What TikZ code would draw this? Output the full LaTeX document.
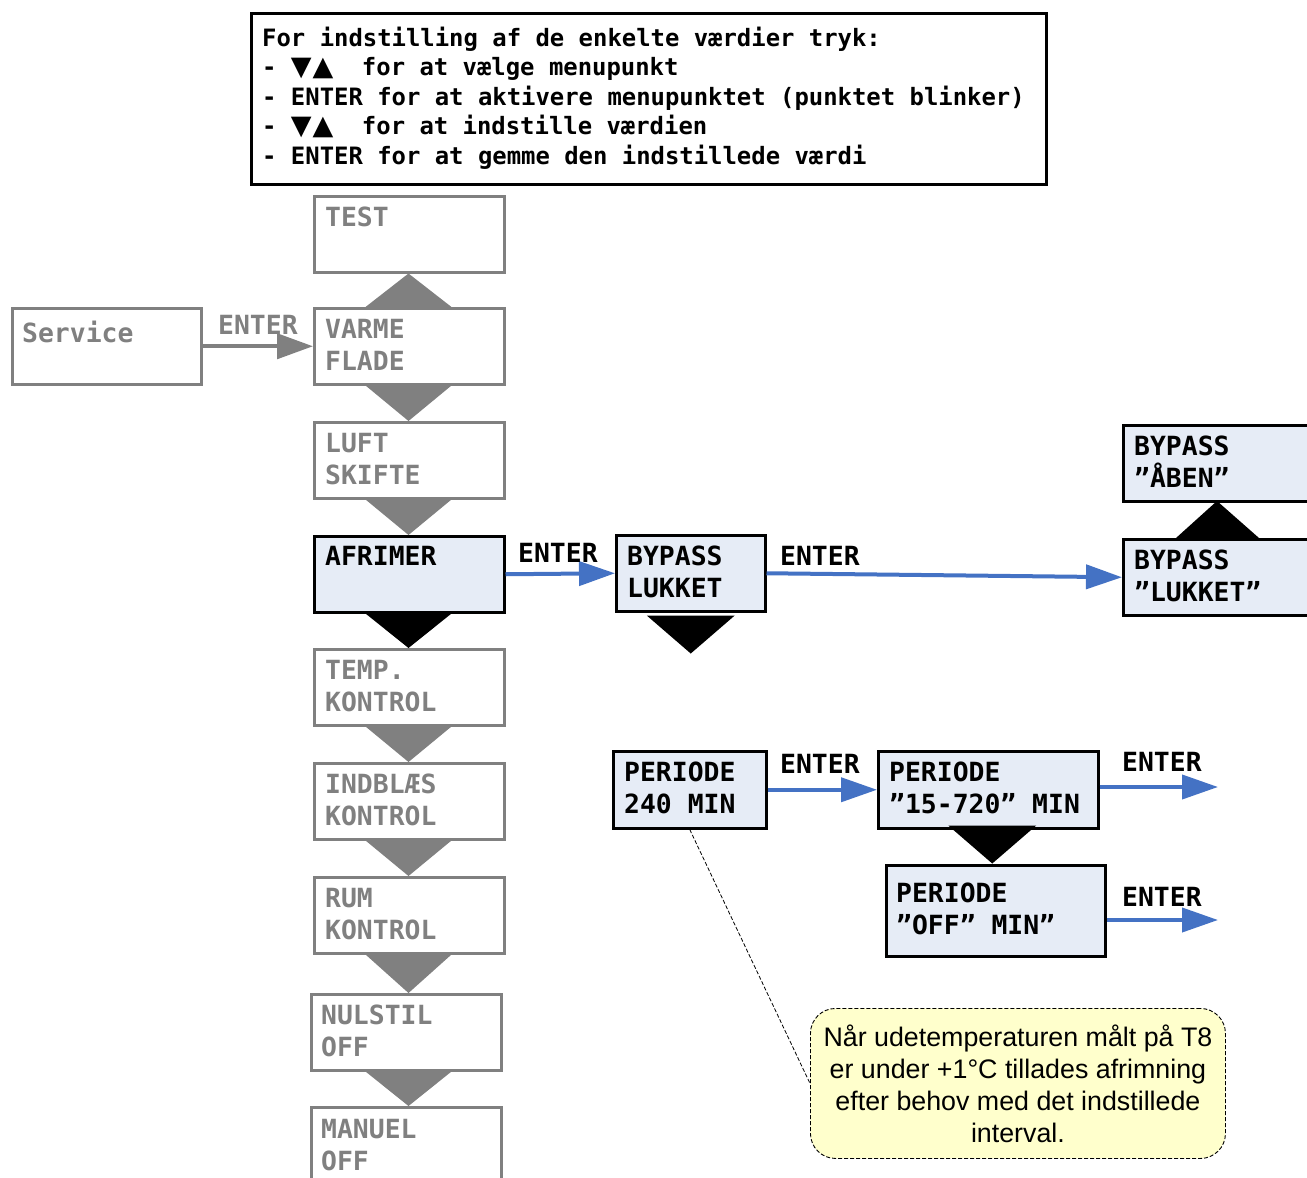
\documentclass[tikz,border=0pt]{standalone}
\usepackage{fontspec}
\usetikzlibrary{arrows.meta,calc}
\setmainfont{Liberation Sans}
\newfontfamily\lcdfont{DejaVu Sans Mono}
\newfontfamily\symfont{DejaVu Sans}
\newcommand\lcd{\lcdfont\bfseries\fontsize{26.4}{32}\selectfont}
\newcommand\helpfont{\lcdfont\bfseries\fontsize{23.9}{29.5}\selectfont}
\newcommand\keysyms{{\symfont\fontsize{27}{29.5}\selectfont ▼\kern1pt▲}}
\newcommand\notefont{\fontsize{26.8}{32}\selectfont}
\definecolor{menugray}{RGB}{128,128,128}
\definecolor{keyblue}{RGB}{68,114,196}
\definecolor{activefill}{RGB}{230,236,246}
\definecolor{notefill}{RGB}{255,255,204}
\tikzset{
  box/.style={draw, line width=2.5pt, minimum width=190, minimum height=76,
    anchor=north west, inner sep=0},
  gbox/.style={box, draw=menugray},
  abox/.style={box, draw=black, fill=activefill},
  % text nodes are placed at the baseline of their last line
  gtxt/.style={anchor=base west, inner sep=0, text=menugray, font=\lcd, align=left},
  atxt/.style={anchor=base west, inner sep=0, text=black, font=\lcd, align=left},
  gtri/.style={fill=menugray},
  btri/.style={fill=black},
  garrow/.style={draw=menugray, line width=4pt, -{Triangle[length=36pt,width=25pt]}},
  barrow/.style={draw=keyblue, line width=4pt, -{Triangle[length=36pt,width=24pt]}},
}
\begin{document}
\begin{tikzpicture}[x=1pt,y=-1pt]
\useasboundingbox (0,0) rectangle (1307,1178);
\clip (0,0) rectangle (1307,1178);

% instruction panel
\node[box, draw=black, minimum width=795, minimum height=171] (help) at (250,12) {};
\node[anchor=base west, inner sep=0, font=\helpfont, align=left] (helptext) at (262,164)
  {For indstilling af de enkelte værdier tryk:\\
   - \makebox[71pt][l]{\keysyms}for at vælge menupunkt\\
   - ENTER for at aktivere menupunktet (punktet blinker)\\
   - \makebox[71pt][l]{\keysyms}for at indstille værdien\\
   - ENTER for at gemme den indstillede værdi};

% service entry
\node[gbox, minimum width=189] (service) at (11,307) {};
\node[gtxt] (servicetext) at (22,342) {Service};

% main menu column
\coordinate (col) at (408.5,0);
\node[gbox] (test) at (313,195) {};
\node[gtxt] (testtext) at (325,226) {TEST};
\node[gbox] (varme) at (313,307) {};
\node[gtxt] (varmetext) at (325,370) {VARME\\FLADE};
\node[gbox] (luft) at (313,421) {};
\node[gtxt] (lufttext) at (325,484) {LUFT\\SKIFTE};
\node[abox] (afrimer) at (313,535) {};
\node[atxt] (afrimertext) at (325,565) {AFRIMER};
\node[gbox] (temp) at (313,648) {};
\node[gtxt] (temptext) at (325,711) {TEMP.\\KONTROL};
\node[gbox] (indblaes) at (313,762) {};
\node[gtxt] (indblaestext) at (325,825) {INDBLÆS\\KONTROL};
\node[gbox] (rum) at (313,876) {};
\node[gtxt] (rumtext) at (325,939) {RUM\\KONTROL};
\node[gbox] (nulstil) at (310,993) {};
\node[gtxt] (nulstiltext) at (321,1056) {NULSTIL\\OFF};
\node[gbox] (manuel) at (310,1106) {};
\node[gtxt] (manueltext) at (321,1170) {MANUEL\\OFF};

% scroll triangles between menu items
\fill[gtri] ($(col |- varme.north)+(-43,0)$) -- ($(col |- varme.north)+(43,0)$) -- (col |- test.south) -- cycle;
\fill[gtri] ($(col |- varme.south)+(-43,0)$) -- ($(col |- varme.south)+(43,0)$) -- (col |- luft.north) -- cycle;
\fill[gtri] ($(col |- luft.south)+(-43,0)$) -- ($(col |- luft.south)+(43,0)$) -- (col |- afrimer.north) -- cycle;
\fill[btri] ($(col |- afrimer.south)+(-43,0)$) -- ($(col |- afrimer.south)+(43,0)$) -- (col |- temp.north) -- cycle;
\fill[gtri] ($(col |- temp.south)+(-43,0)$) -- ($(col |- temp.south)+(43,0)$) -- (col |- indblaes.north) -- cycle;
\fill[gtri] ($(col |- indblaes.south)+(-43,0)$) -- ($(col |- indblaes.south)+(43,0)$) -- (col |- rum.north) -- cycle;
\fill[gtri] ($(col |- rum.south)+(-43,0)$) -- ($(col |- rum.south)+(43,0)$) -- (col |- nulstil.north) -- cycle;
\fill[gtri] ($(col |- nulstil.south)+(-43,0)$) -- ($(col |- nulstil.south)+(43,0)$) -- (col |- manuel.north) -- cycle;

% service -> menu
\draw[garrow] (service.east) -- (varme.west);
\node[gtxt] (enter0) at (218,334) {ENTER};

% bypass branch
\node[abox, minimum width=149] (bl) at (615,534) {};
\node[atxt] (bltext) at (627,597) {BYPASS\\LUKKET};
\fill[btri] ($(bl.south)+(-44,3)$) -- ($(bl.south)+(44,3)$) -- ($(bl.south)+(0,41)$) -- cycle;
\node[abox, minimum width=195] (bopen) at (1122,424) {};
\node[atxt] (bopentext) at (1134,487) {BYPASS\\”ÅBEN”};
\node[abox, minimum width=195] (bclosed) at (1122,538) {};
\node[atxt] (bclosedtext) at (1134,601) {BYPASS\\”LUKKET”};
\fill[btri] ($(bclosed.north west)+(54,0)$) -- ($(bclosed.north west)+(137,0)$) -- ($(bclosed.north west)+(95,-37)$) -- cycle;
\draw[barrow] (afrimer.east) -- (bl.west);
\node[atxt] (enter1) at (518,562) {ENTER};
\draw[barrow] (bl.east) -- (bclosed.west);
\node[atxt] (enter2) at (780,565) {ENTER};

% period branch
\node[abox, minimum width=153, minimum height=77] (p240) at (612,750) {};
\node[atxt] (p240text) at (624,813) {PERIODE\\240 MIN};
\node[abox, minimum width=220, minimum height=77] (p15) at (877,750) {};
\node[atxt] (p15text) at (889,813) {PERIODE\\”15-720” MIN};
\node[abox, minimum width=219, minimum height=91] (poff) at (885,864) {};
\node[atxt] (pofftext) at (896,934) {PERIODE\\”OFF” MIN”};
\fill[btri] ($(p15.south)+(-40,-4)$) -- ($(p15.south)+(48,-4)$) -- ($(p15.south)+(4,34)$) -- cycle;
\draw[barrow] (p240.east) -- (p15.west);
\node[atxt] (enter3) at (780,773) {ENTER};
\coordinate (exit1) at (1218,787);
\coordinate (exit2) at (1218,920);
\draw[barrow] (p15.east |- exit1) -- (exit1);
\node[atxt] (enter4) at (1122,771) {ENTER};
\draw[barrow] (poff.east |- exit2) -- (exit2);
\node[atxt] (enter5) at (1122,906) {ENTER};

% explanatory note
\node[draw, line width=0.9pt, dash pattern=on 4pt off 2pt, rounded corners=25pt,
      fill=notefill, minimum width=415, minimum height=150, anchor=north west,
      align=center, font=\notefont, inner sep=0] (note) at (810,1008)
  {Når udetemperaturen målt på T8\\er under +1°C tillades afrimning\\efter behov med det indstillede\\interval.};
\draw[line width=0.8pt, dash pattern=on 4pt off 2pt] (p240.south) -- (note.west);
\end{tikzpicture}
\end{document}
